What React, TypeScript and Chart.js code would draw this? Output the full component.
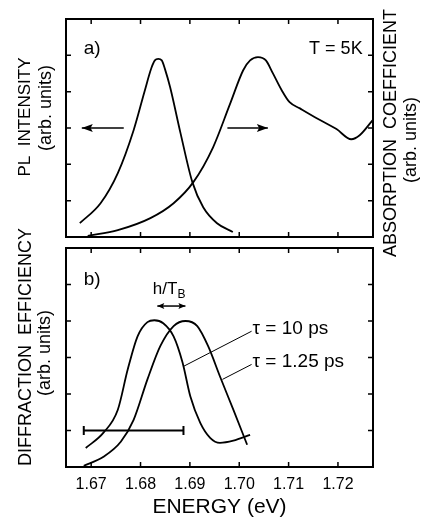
import React, { useEffect, useRef } from 'react';
import { Chart, registerables } from 'chart.js';

Chart.register(...registerables);

const FONT = "'Liberation Sans', Arial, sans-serif";

// ---- axis range / ticks ----
const X_MIN = 1.6649;
const X_MAX = 1.7271;
const xTicks = [1.67, 1.68, 1.69, 1.7, 1.71, 1.72];
const xTickLabels = ['1.67', '1.68', '1.69', '1.70', '1.71', '1.72'];
const yTicks = [1, 2, 3, 4, 5];
const Y_MIN = 0;
const Y_MAX = 6;

// ---- panel a) ----
const plEnergy = [1.6677, 1.6719, 1.6754, 1.6786, 1.6808, 1.6822, 1.6829, 1.6836, 1.6843, 1.685, 1.686, 1.6881, 1.6905, 1.6927, 1.6955, 1.6987];
const plIntensity = [0.38, 0.93, 1.76, 2.94, 4.0, 4.65, 4.86, 4.9, 4.86, 4.6, 4.12, 2.86, 1.51, 0.82, 0.38, 0.14];

const absEnergy = [1.6693, 1.6754, 1.682, 1.6867, 1.6907, 1.6947, 1.6981, 1.7008, 1.7022, 1.7038, 1.7054, 1.7068, 1.7086, 1.7102, 1.7123, 1.7157, 1.7197, 1.7227, 1.7244, 1.727];
const absCoeff = [0.03, 0.19, 0.52, 0.93, 1.51, 2.47, 3.65, 4.59, 4.86, 4.95, 4.86, 4.51, 4.04, 3.71, 3.54, 3.27, 2.97, 2.69, 2.8, 3.21];

const leftArrowEnergy = [1.6766, 1.6681];
const rightArrowEnergy = [1.6976, 1.7058];
const arrowLevel = 3.0;

// ---- panel b) ----
const tau10Energy = [1.6689, 1.6725, 1.6754, 1.6774, 1.6794, 1.6814, 1.6828, 1.6846, 1.6867, 1.6885, 1.6901, 1.6921, 1.6941, 1.6961, 1.6988, 1.7022];
const tau10Eff = [0.52, 0.94, 1.57, 2.67, 3.58, 3.97, 4.02, 3.94, 3.58, 2.87, 1.93, 1.21, 0.8, 0.66, 0.72, 0.88];

const tau125Energy = [1.6685, 1.6725, 1.676, 1.6786, 1.6814, 1.684, 1.6867, 1.6891, 1.6915, 1.6937, 1.6961, 1.6988, 1.7016];
const tau125Eff = [0.03, 0.28, 0.69, 1.29, 2.4, 3.31, 3.86, 4.0, 3.86, 3.31, 2.48, 1.57, 0.61];

const barEnergy = [1.6685, 1.6887];
const barLevel = 1.0;

const hTbEnergy = [1.6834, 1.6891];
const hTbLevel = 4.41;

const leader10Energy = [1.6886, 1.7025];
const leader10Eff = [2.75, 3.72];
const leader125Energy = [1.6966, 1.7025];
const leader125Eff = [2.4, 2.81];

type Pt = { x: number; y: number };
const zip = (xs: number[], ys: number[]): Pt[] => xs.map((x, i) => ({ x, y: ys[i] }));
const flat = (xs: number[], y: number): Pt[] => xs.map((x) => ({ x, y }));

type DataText = { text: string; x: number; y: number; size: number; align: CanvasTextAlign; sub?: string; subSize?: number };
type PixText = { text: string; cx: number; cy: number; size: number };

function drawHead(ctx: CanvasRenderingContext2D, tip: { x: number; y: number }, from: { x: number; y: number }, len: number, hw: number) {
  const ang = Math.atan2(tip.y - from.y, tip.x - from.x);
  ctx.save();
  ctx.translate(tip.x, tip.y);
  ctx.rotate(ang);
  ctx.beginPath();
  ctx.moveTo(0, 0);
  ctx.lineTo(-len, -hw);
  ctx.lineTo(-len * 0.8, 0);
  ctx.lineTo(-len, hw);
  ctx.closePath();
  ctx.fillStyle = '#000';
  ctx.fill();
  ctx.restore();
}

function makeDecor(dataTexts: DataText[], pixTexts: PixText[]) {
  return {
    id: 'decor',
    afterDatasetsDraw(chart: any) {
      const ctx: CanvasRenderingContext2D = chart.ctx;
      chart.data.datasets.forEach((ds: any, i: number) => {
        const meta = chart.getDatasetMeta(i);
        const pts = meta.data;
        if (!pts || pts.length < 2) return;
        if (ds.arrowEnd) drawHead(ctx, pts[pts.length - 1], pts[pts.length - 2], ds.headLen, ds.headW);
        if (ds.arrowStart) drawHead(ctx, pts[0], pts[1], ds.headLen, ds.headW);
      });
    },
    afterDraw(chart: any) {
      const ctx: CanvasRenderingContext2D = chart.ctx;
      const a = chart.chartArea;
      const xs = chart.scales.x;
      const ys = chart.scales.y;
      ctx.save();
      ctx.strokeStyle = '#000';
      ctx.lineWidth = 2;
      ctx.strokeRect(a.left, a.top, a.right - a.left, a.bottom - a.top);
      ctx.lineWidth = 1.5;
      const tl = 5;
      ctx.beginPath();
      xTicks.forEach((v) => {
        const px = xs.getPixelForValue(v);
        ctx.moveTo(px, a.top);
        ctx.lineTo(px, a.top + tl);
        ctx.moveTo(px, a.bottom);
        ctx.lineTo(px, a.bottom - tl);
      });
      yTicks.forEach((v) => {
        const py = ys.getPixelForValue(v);
        ctx.moveTo(a.left, py);
        ctx.lineTo(a.left + tl, py);
        ctx.moveTo(a.right, py);
        ctx.lineTo(a.right - tl, py);
      });
      ctx.stroke();

      ctx.fillStyle = '#000';
      dataTexts.forEach((t) => {
        const px = xs.getPixelForValue(t.x);
        const py = ys.getPixelForValue(t.y);
        ctx.font = `${t.size}px ${FONT}`;
        ctx.textAlign = t.align;
        ctx.textBaseline = 'alphabetic';
        ctx.fillText(t.text, px, py);
        if (t.sub) {
          const w = ctx.measureText(t.text).width;
          ctx.font = `${t.subSize || 12}px ${FONT}`;
          ctx.textAlign = 'left';
          const startX = t.align === 'left' ? px + w : px;
          ctx.fillText(t.sub, startX, py + 4);
        }
      });

      pixTexts.forEach((t) => {
        ctx.save();
        ctx.translate(t.cx, t.cy);
        ctx.rotate(-Math.PI / 2);
        ctx.font = `${t.size}px ${FONT}`;
        ctx.textAlign = 'center';
        ctx.textBaseline = 'middle';
        ctx.fillText(t.text, 0, 0);
        ctx.restore();
      });
      ctx.restore();
    },
  };
}

const lineDs = (data: Pt[], extra: any = {}) => ({
  data,
  borderColor: '#000',
  backgroundColor: '#000',
  borderWidth: 1.8,
  pointRadius: 0,
  fill: false,
  cubicInterpolationMode: 'monotone',
  ...extra,
});

function baseScales(showX: boolean) {
  return {
    x: showX
      ? {
          type: 'linear',
          min: X_MIN,
          max: X_MAX,
          position: 'bottom',
          afterBuildTicks: (s: any) => {
            s.ticks = xTicks.map((v) => ({ value: v }));
          },
          afterFit: (s: any) => {
            s.height = 56;
          },
          grid: { display: false, drawTicks: false },
          border: { display: false },
          ticks: {
            autoSkip: false,
            maxRotation: 0,
            padding: 8,
            color: '#000',
            font: { family: FONT, size: 16 },
            callback: (v: number) => {
              const i = xTicks.findIndex((t) => Math.abs(t - v) < 1e-9);
              return i >= 0 ? xTickLabels[i] : '';
            },
          },
          title: {
            display: true,
            text: 'ENERGY (eV)',
            color: '#000',
            font: { family: FONT, size: 21 },
            padding: { top: 0, bottom: 3 },
          },
        }
      : { type: 'linear', min: X_MIN, max: X_MAX, display: false },
    y: { type: 'linear', min: Y_MIN, max: Y_MAX, display: false },
  };
}

const commonOpts = {
  animation: false,
  responsive: false,
  events: [],
  plugins: { legend: { display: false }, tooltip: { enabled: false } },
};

export default function App() {
  const refA = useRef<HTMLCanvasElement>(null);
  const refB = useRef<HTMLCanvasElement>(null);

  useEffect(() => {
    const chartA = new Chart(refA.current as HTMLCanvasElement, {
      type: 'line',
      data: {
        datasets: [
          lineDs(zip(plEnergy, plIntensity)),
          lineDs(zip(absEnergy, absCoeff)),
          lineDs(flat(leftArrowEnergy, arrowLevel), { borderWidth: 1.5, arrowEnd: true, headLen: 11, headW: 4, cubicInterpolationMode: 'default', tension: 0 }),
          lineDs(flat(rightArrowEnergy, arrowLevel), { borderWidth: 1.5, arrowEnd: true, headLen: 11, headW: 4, cubicInterpolationMode: 'default', tension: 0 }),
        ] as any,
      },
      options: {
        ...commonOpts,
        layout: { padding: { left: 66, right: 56, top: 19, bottom: 286 } },
        scales: baseScales(false) as any,
      } as any,
      plugins: [
        makeDecor(
          [
            { text: 'a)', x: 1.6685, y: 5.05, size: 19, align: 'left' },
            { text: 'T = 5K', x: 1.725, y: 5.05, size: 18, align: 'right' },
          ],
          [
            { text: 'PL  INTENSITY', cx: 25, cy: 117, size: 17 },
            { text: '(arb. units)', cx: 46, cy: 108, size: 18 },
            { text: 'ABSORPTION  COEFFICIENT', cx: 391, cy: 133, size: 18 },
            { text: '(arb. units)', cx: 411, cy: 140, size: 18 },
          ]
        ) as any,
      ],
    });

    const chartB = new Chart(refB.current as HTMLCanvasElement, {
      type: 'line',
      data: {
        datasets: [
          lineDs(zip(tau10Energy, tau10Eff)),
          lineDs(zip(tau125Energy, tau125Eff)),
          lineDs(flat(barEnergy, barLevel), {
            borderWidth: 2,
            tension: 0,
            cubicInterpolationMode: 'default',
            pointStyle: 'line',
            pointRadius: 4.5,
            pointBorderWidth: 2,
            pointRotation: 90,
          }),
          lineDs(flat(hTbEnergy, hTbLevel), { borderWidth: 1.5, arrowEnd: true, arrowStart: true, headLen: 7, headW: 3, cubicInterpolationMode: 'default', tension: 0 }),
          lineDs(zip(leader10Energy, leader10Eff), { borderWidth: 1, cubicInterpolationMode: 'default', tension: 0 }),
          lineDs(zip(leader125Energy, leader125Eff), { borderWidth: 1, cubicInterpolationMode: 'default', tension: 0 }),
        ] as any,
      },
      options: {
        ...commonOpts,
        layout: { padding: { left: 66, right: 56, top: 248, bottom: 0 } },
        scales: baseScales(true) as any,
      } as any,
      plugins: [
        makeDecor(
          [
            { text: 'b)', x: 1.6685, y: 5.0, size: 19, align: 'left' },
            { text: 'h/T', x: 1.6825, y: 4.74, size: 17, align: 'left', sub: 'B', subSize: 12 },
            { text: 'τ = 10 ps', x: 1.7027, y: 3.64, size: 19, align: 'left' },
            { text: 'τ = 1.25 ps', x: 1.7027, y: 2.73, size: 19, align: 'left' },
          ],
          [
            { text: 'DIFFRACTION  EFFICIENCY', cx: 26, cy: 347, size: 18 },
            { text: '(arb. units)', cx: 45, cy: 353, size: 18 },
          ]
        ) as any,
      ],
    });

    return () => {
      chartA.destroy();
      chartB.destroy();
    };
  }, []);

  const cstyle: React.CSSProperties = { position: 'absolute', left: 0, top: 0, width: 429, height: 523 };
  return (
    <div style={{ position: 'fixed', left: 0, top: 0, width: 429, height: 523, background: '#fff' }}>
      <canvas ref={refA} width={429} height={523} style={cstyle} />
      <canvas ref={refB} width={429} height={523} style={cstyle} />
    </div>
  );
}
